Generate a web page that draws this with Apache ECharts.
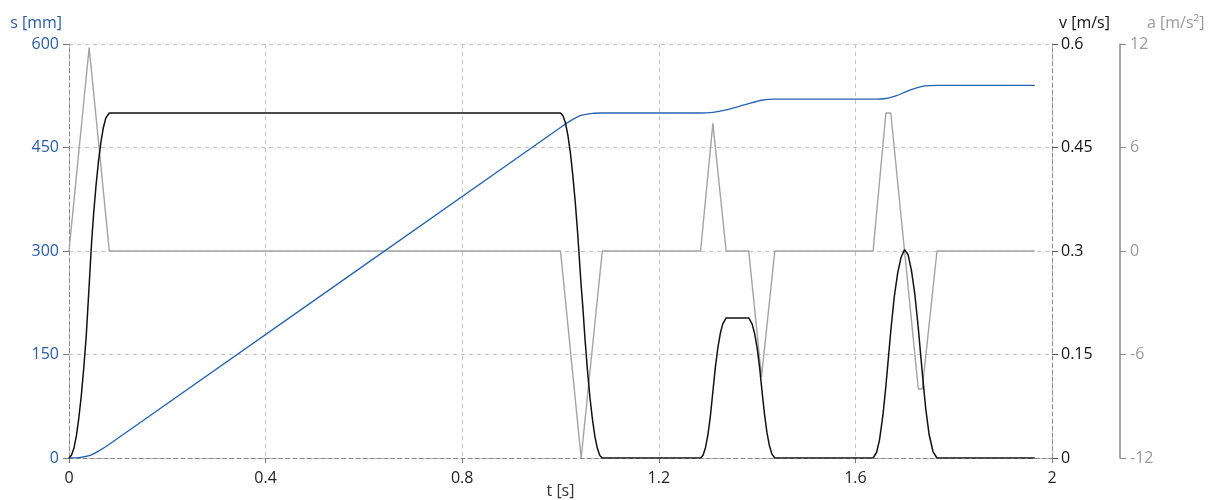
<!DOCTYPE html>
<html><head><meta charset="utf-8">
<script src="https://cdn.jsdelivr.net/npm/echarts@6/dist/echarts.min.js"></script>
<style>html,body{margin:0;padding:0;background:#fff}#c{width:1223px;height:500px}</style>
</head><body><div id="c"></div>
<script>
const timeTicks = [0, 0.4, 0.8, 1.2, 1.6, 2];
const positionTicks = [0, 150, 300, 450, 600];
const velocityTicks = [0, 0.15, 0.3, 0.45, 0.6];
const accelTicks = [-12, -6, 0, 6, 12];

// [t (s), s (mm)]
const positionData = [[0,0],[0.02,0.4],[0.041,3.3],[0.06,10],[0.082,20],[1.0,479],[1.02,488.6],[1.042,496.5],[1.065,499.6],[1.085,500],[1.285,500],[1.31,501],[1.337,504.5],[1.36,509],[1.383,513.7],[1.409,518.5],[1.436,520],[1.636,520],[1.662,521],[1.685,525.5],[1.70,530],[1.715,534.3],[1.736,538.5],[1.75,539.6],[1.766,540],[1.965,540]];
// [t (s), v (m/s)]
const velocityData = [[0,0],[0.005,0.004],[0.01,0.014],[0.015,0.032],[0.02,0.058],[0.025,0.09],[0.03,0.13],[0.035,0.176],[0.041,0.25],[0.046,0.313],[0.05,0.353],[0.055,0.395],[0.06,0.43],[0.065,0.458],[0.07,0.479],[0.075,0.493],[0.082,0.5],
  [1.0,0.5],[1.005,0.496],[1.01,0.486],[1.015,0.468],[1.02,0.443],[1.025,0.41],[1.03,0.371],[1.035,0.325],[1.042,0.25],[1.045,0.223],[1.05,0.171],[1.055,0.126],[1.06,0.087],[1.065,0.056],[1.07,0.031],[1.075,0.014],[1.08,0.0035],[1.085,0],
  [1.285,0],[1.29,0.004],[1.295,0.015],[1.30,0.034],[1.305,0.061],[1.31,0.096],[1.315,0.131],[1.32,0.159],[1.325,0.18],[1.33,0.194],[1.337,0.203],[1.383,0.203],[1.39,0.194],[1.395,0.18],[1.40,0.16],[1.405,0.132],[1.41,0.097],[1.415,0.064],[1.42,0.037],[1.425,0.018],[1.43,0.006],[1.436,0],
  [1.636,0],[1.643,0.008],[1.649,0.026],[1.656,0.062],[1.662,0.104],[1.667,0.144],[1.672,0.184],[1.679,0.233],[1.686,0.268],[1.693,0.291],[1.70,0.302],[1.707,0.295],[1.714,0.272],[1.721,0.237],[1.728,0.188],[1.732,0.156],[1.736,0.124],[1.743,0.072],[1.75,0.034],[1.758,0.009],[1.766,0],[1.965,0]];
// [t (s), a (m/s²)]
const accelData = [[0,0],[0.041,11.8],[0.082,0],[1.0,0],[1.042,-12],[1.085,0],[1.285,0],[1.31,7.4],[1.337,0],[1.383,0],[1.409,-7.3],[1.436,0],[1.636,0],[1.662,8.0],[1.672,8.0],[1.70,0],[1.728,-8.0],[1.736,-8.0],[1.766,0],[1.965,0]];

const FONT = '"Open Sans", "Noto Sans", sans-serif';
const dashAxis = {show:true, lineStyle:{color:'#8a8a8a', type:[4,3], width:1}};
const chart = echarts.init(document.getElementById('c'), null, {renderer:'canvas'});
chart.setOption({
  animation:false,
  grid:{left:69, right:171, top:44, bottom:42, containLabel:false, outerBoundsMode:'none'},
  xAxis:{
    type:'value', min:0, max:2, interval:0.4,
    name:'t [s]', nameLocation:'middle', nameGap:25, nameMoveOverlap:false,
    nameTextStyle:{color:'#333', fontSize:16, fontFamily:FONT, verticalAlign:'top'},
    axisLine:dashAxis,
    axisTick:{show:true, length:5, lineStyle:{color:'#777'}},
    axisLabel:{color:'#222', fontSize:16, fontFamily:FONT, margin:12,
      formatter:v=>timeTicks.includes(+v.toFixed(2))?String(+v.toFixed(2)):''},
    splitLine:{show:true, lineStyle:{color:'#c4c4c4', type:[4,4]}}
  },
  yAxis:[
    {type:'value', min:0, max:600, interval:150, position:'left',
     name:'s [mm]', nameLocation:'end', nameGap:13, nameMoveOverlap:false,
     nameTextStyle:{color:'#2a5ba8', fontSize:16, fontFamily:FONT, align:'right', padding:[0,7,0,0]},
     axisLine:dashAxis,
     axisTick:{show:true, length:6, lineStyle:{color:'#777'}},
     axisLabel:{color:'#2a5ba8', fontSize:16, fontFamily:FONT, margin:10,
       formatter:v=>positionTicks.includes(v)?String(v):''},
     splitLine:{show:true, lineStyle:{color:'#c4c4c4', type:[4,4]}}},
    {type:'value', min:0, max:0.6, interval:0.15, position:'right',
     name:'v [m/s]', nameLocation:'end', nameGap:13, nameMoveOverlap:false,
     nameTextStyle:{color:'#111', fontSize:16, fontFamily:FONT, align:'left', padding:[0,0,0,7]},
     axisLine:dashAxis,
     axisTick:{show:true, length:6, lineStyle:{color:'#555'}},
     axisLabel:{color:'#111', fontSize:16, fontFamily:FONT, margin:9,
       formatter:v=>{const r=+v.toFixed(2);return velocityTicks.includes(r)?String(r):'';}},
     splitLine:{show:false}},
    {type:'value', min:-12, max:12, interval:6, position:'right', offset:68,
     name:'a [m/s²]', nameLocation:'end', nameGap:13, nameMoveOverlap:false,
     nameTextStyle:{color:'#9a9a9a', fontSize:16, fontFamily:FONT, align:'left', padding:[0,0,0,27]},
     axisLine:{show:true, lineStyle:{color:'#8a8a8a', width:1.5}},
     axisTick:{show:true, length:6, lineStyle:{color:'#8a8a8a'}},
     axisLabel:{color:'#9a9a9a', fontSize:16, fontFamily:FONT, margin:10,
       formatter:v=>accelTicks.includes(v)?String(v):''},
     splitLine:{show:false}}
  ],
  series:[
    {type:'line', yAxisIndex:2, data:accelData, showSymbol:false, symbol:'none',
     lineStyle:{color:'#a3a3a3', width:1.4}, z:2},
    {type:'line', yAxisIndex:0, data:positionData, showSymbol:false, symbol:'none', smooth:0.2,
     lineStyle:{color:'#2563b0', width:1.3}, z:3},
    {type:'line', yAxisIndex:1, data:velocityData, showSymbol:false, symbol:'none',
     lineStyle:{color:'#111', width:1.5}, z:4}
  ]
});
</script></body></html>
